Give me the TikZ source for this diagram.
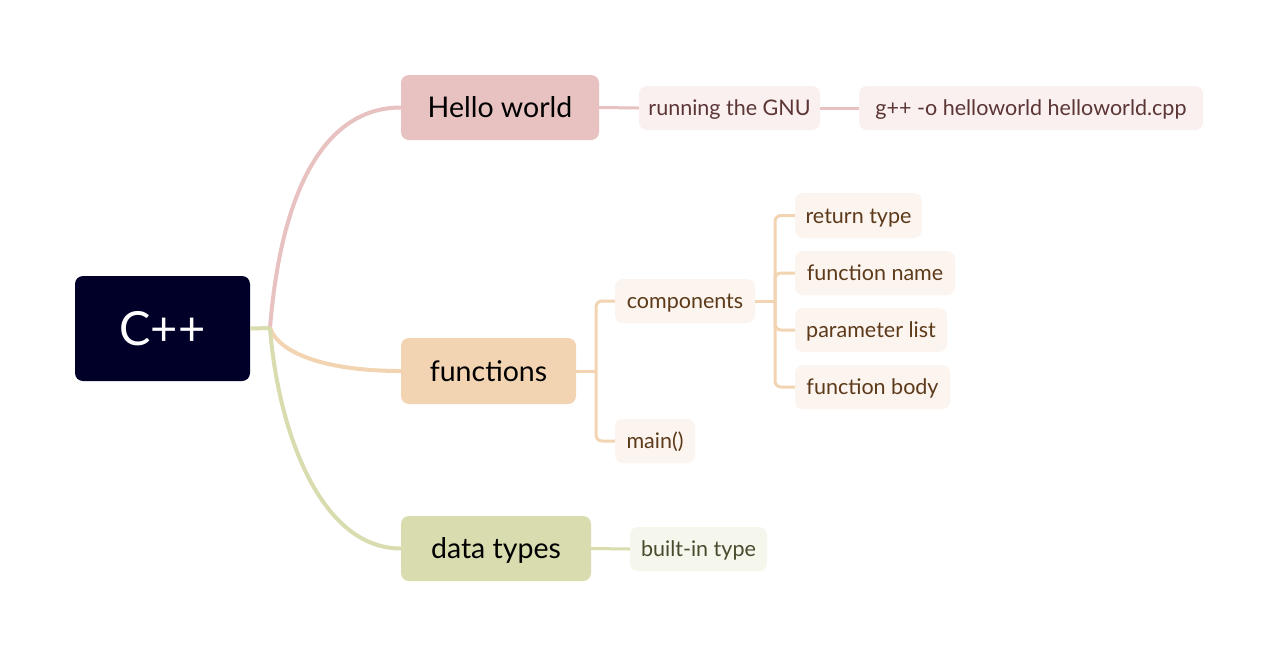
\documentclass[tikz,border=0pt]{standalone}
\usepackage{fontspec}
\setmainfont{Lato}
\definecolor{rootc}{RGB}{0,0,40}
\definecolor{pinkc}{HTML}{E8C2C1}
\definecolor{orangec}{HTML}{F2D4B2}
\definecolor{greenc}{HTML}{D9DCAF}
\definecolor{pinksub}{HTML}{FAF0F0}
\definecolor{orangesub}{HTML}{FCF4EE}
\definecolor{greensub}{HTML}{F5F6EC}
\definecolor{pinktxt}{HTML}{5C3535}
\definecolor{orangetxt}{HTML}{5C3A1A}
\definecolor{greentxt}{HTML}{4A4A2E}
\tikzset{
  box/.style={rounded corners=8pt, inner sep=0pt, text depth=0pt, anchor=center},
  rootbox/.style={box, fill=rootc, text=white, font=\fontsize{47}{52}\selectfont, text height=33.7pt},
  mainbox/.style={box, text=black, font=\fontsize{28.5}{33}\selectfont, text height=20.4pt},
  subbox/.style={box, font=\fontsize{21.5}{25}\selectfont, text height=15.4pt},
  pinkline/.style={draw=pinkc, line width=4pt},
  orangeline/.style={draw=orangec, line width=4pt},
  greenline/.style={draw=greenc, line width=4pt},
  pinksubline/.style={draw=pinkc, line width=3pt},
  orangesubline/.style={draw=orangec, line width=3pt, rounded corners=6pt},
  greensubline/.style={draw=greenc, line width=3pt},
}
\begin{document}
\begin{tikzpicture}[x=1pt,y=-1pt]
\useasboundingbox[fill=white] (0,0) rectangle (1278,657);
% junctions
\coordinate (j) at (270,328);
\coordinate (fj) at (596,371);
\coordinate (cj) at (775,301);
% nodes
\node[rootbox, minimum width=175pt, minimum height=105pt] (root) at (162.5,328.5) {C++};
\node[mainbox, fill=pinkc, minimum width=198pt, minimum height=65pt] (hello) at (500,107.5) {Hello world};
\node[mainbox, fill=orangec, minimum width=175pt, minimum height=66pt] (func) at (488.5,371) {functions};
\node[mainbox, fill=greenc, minimum width=190pt, minimum height=65pt] (data) at (496,548.5) {data types};
\node[subbox, fill=pinksub, text=pinktxt, minimum width=181pt, minimum height=44pt] (gnu) at (729.5,108) {running the GNU};
\node[subbox, fill=pinksub, text=pinktxt, minimum width=344pt, minimum height=44pt] (gpp) at (1031,108) {g++ -o helloworld helloworld.cpp};
\node[subbox, fill=orangesub, text=orangetxt, minimum width=140pt, minimum height=44pt] (comp) at (685,301) {components};
\node[subbox, fill=orangesub, text=orangetxt, minimum width=80pt, minimum height=44pt] (mainf) at (655,441) {main()};
\node[subbox, fill=orangesub, text=orangetxt, minimum width=127pt, minimum height=45pt] (rt) at (858.5,215.5) {return type};
\node[subbox, fill=orangesub, text=orangetxt, minimum width=160pt, minimum height=44pt] (fn) at (875,273) {function name};
\node[subbox, fill=orangesub, text=orangetxt, minimum width=152pt, minimum height=44pt] (pl) at (871,330) {parameter list};
\node[subbox, fill=orangesub, text=orangetxt, minimum width=155pt, minimum height=44pt] (fb) at (872.5,387) {function body};
\node[subbox, fill=greensub, text=greentxt, minimum width=137pt, minimum height=44pt] (bit) at (698.5,549) {built-in type};
% root connectors
\draw[pinkline] (j) .. controls +(12,-148) and +(-71,0) .. (hello.west);
\draw[orangeline] (j) .. controls +(10,27) and +(-71,0) .. (func.west);
\draw[greenline] (j) .. controls +(8,102) and +(-81,0) .. (data.west);
\draw[greenline] (root.east) -- (j);
% hello branch
\draw[pinksubline] (hello.east) -- (gnu.west);
\draw[pinksubline] (gnu.east) -- (gpp.west);
% functions branch
\draw[orangesubline] (func.east) -- (fj);
\draw[orangesubline] (comp.west) -| (fj) |- (mainf.west);
\draw[orangesubline] (comp.east) -- (cj);
\draw[orangesubline] (rt.west) -| (cj) |- (fb.west);
\draw[orangesubline] (fn.west) -| (cj);
\draw[orangesubline] (pl.west) -| (cj);
% data branch
\draw[greensubline] (data.east) -- (bit.west);
\end{tikzpicture}
\end{document}
